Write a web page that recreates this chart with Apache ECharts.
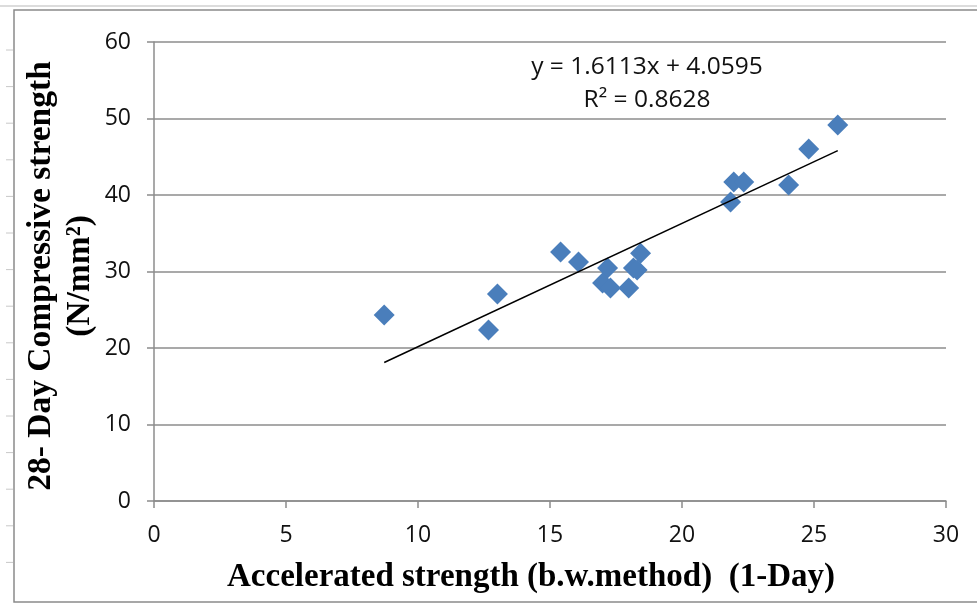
<!DOCTYPE html>
<html>
<head>
<meta charset="utf-8">
<script src="https://cdn.jsdelivr.net/npm/echarts@6/dist/echarts.min.js"></script>
<style>html,body{margin:0;padding:0;background:#fff}#c{width:977px;height:604px}</style>
</head>
<body>
<div id="c"></div>
<script>
// Data
const xValues = [8.72, 12.67, 13.01, 15.40, 16.08, 17.18, 16.99, 17.29, 17.98, 18.16, 18.43, 18.30, 21.84, 21.96, 22.34, 24.04, 24.80, 25.90];
const yValues = [24.3, 22.35, 27.06, 32.55, 31.24, 30.46, 28.5, 27.84, 27.84, 30.46, 32.4, 30.2, 39.1, 41.7, 41.7, 41.3, 46.0, 49.15];
const trendSlope = 1.6113;
const trendIntercept = 4.0595;
const equationText = 'y = 1.6113x + 4.0595';
const r2Text = 'R² = 0.8628';
const xTitle = 'Accelerated strength (b.w.method)  (1-Day)';
const yTitleLine1 = '28- Day Compressive strength';
const yTitleLine2 = '(N/mm²)';

const points = xValues.map((x, i) => [x, yValues[i]]);
const xMin = Math.min(...xValues), xMax = Math.max(...xValues);
const trend = [[xMin, trendSlope * xMin + trendIntercept], [xMax, trendSlope * xMax + trendIntercept]];

const chart = echarts.init(document.getElementById('c'), null, {renderer: 'canvas'});
const gridColor = '#8c8c8c';
const labelFont = {fontFamily: 'Open Sans', fontSize: 23, color: '#111'};

const leftTicks = [];
for (let i = 0; i < 15; i++) {
  const yy = 50 + i * 36.6;
  leftTicks.push({type: 'line', shape: {x1: 6, y1: yy, x2: 13, y2: yy}, style: {stroke: '#c8c8c8', lineWidth: 1}, silent: true});
}

chart.setOption({
  animation: false,
  backgroundColor: '#fff',
  grid: {left: 154, right: 31, top: 42, bottom: 103, containLabel: false},
  xAxis: {
    type: 'value', min: 0, max: 30, interval: 5,
    axisLine: {show: true, onZero: false, lineStyle: {color: gridColor, width: 1.5}},
    axisTick: {show: true, inside: false, length: 7, lineStyle: {color: gridColor, width: 1.5}},
    axisLabel: Object.assign({margin: 23}, labelFont),
    splitLine: {show: false}
  },
  yAxis: {
    type: 'value', min: 0, max: 60, interval: 10,
    axisLine: {show: true, lineStyle: {color: gridColor, width: 1.5}},
    axisTick: {show: true, inside: false, length: 7, lineStyle: {color: gridColor, width: 1.5}},
    axisLabel: Object.assign({margin: 23}, labelFont),
    splitLine: {show: true, lineStyle: {color: gridColor, width: 1.5}}
  },
  series: [
    {
      type: 'scatter', data: points, symbol: 'diamond', symbolSize: 21,
      itemStyle: {color: '#4A7EBB', opacity: 1}, z: 2
    },
    {
      type: 'line', data: trend, showSymbol: false, symbol: 'none',
      lineStyle: {color: '#000', width: 1.5}, z: 3
    }
  ],
  graphic: [
    {type: 'line', shape: {x1: 0, y1: 6, x2: 977, y2: 6}, style: {stroke: '#dcdcdc', lineWidth: 2}, silent: true},
    {type: 'rect', shape: {x: 14, y: 10, width: 1000, height: 592}, style: {fill: null, stroke: '#8a8a8a', lineWidth: 1.5}, silent: true},
    ...leftTicks,
    {type: 'text', x: 647, y: 67, style: {text: equationText, fontFamily: 'Open Sans', fontSize: 24.5, fill: '#111', align: 'center', verticalAlign: 'middle'}},
    {type: 'text', x: 647, y: 100, style: {text: r2Text, fontFamily: 'Open Sans', fontSize: 24.5, fill: '#111', align: 'center', verticalAlign: 'middle'}},
    {type: 'text', x: 531, y: 577, style: {text: xTitle, fontFamily: 'Liberation Serif', fontWeight: 'bold', fontSize: 33, fill: '#000', align: 'center', verticalAlign: 'middle'}},
    {type: 'text', x: 41, y: 276, rotation: Math.PI / 2, style: {text: yTitleLine1, fontFamily: 'Liberation Serif', fontWeight: 'bold', fontSize: 33.5, fill: '#000', align: 'center', verticalAlign: 'middle'}},
    {type: 'text', x: 80, y: 276, rotation: Math.PI / 2, style: {text: yTitleLine2, fontFamily: 'Liberation Serif', fontWeight: 'bold', fontSize: 33.5, fill: '#000', align: 'center', verticalAlign: 'middle'}}
  ]
});
</script>
</body>
</html>
